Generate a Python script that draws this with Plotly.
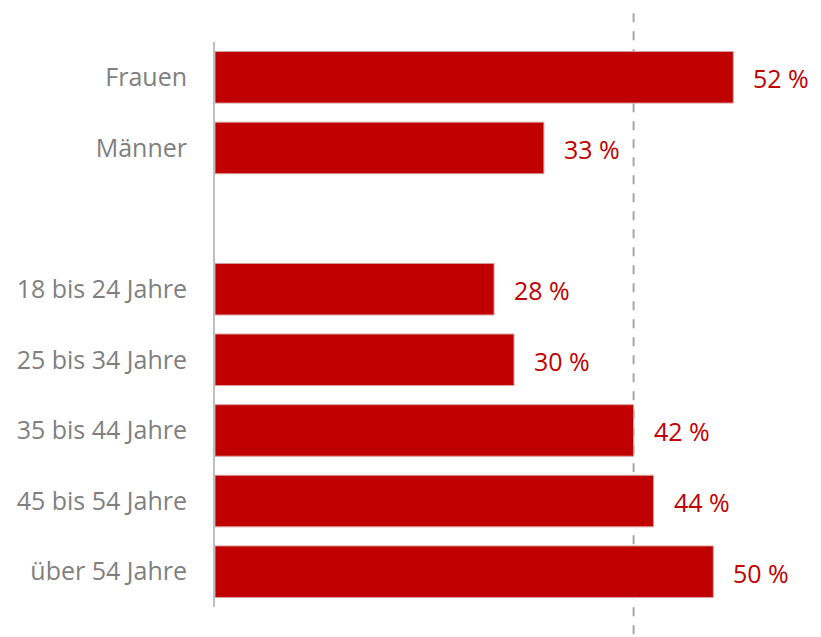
import plotly.graph_objects as go

categories = ["Frauen", "Männer", " ", "18 bis 24 Jahre", "25 bis 34 Jahre",
              "35 bis 44 Jahre", "45 bis 54 Jahre", "über 54 Jahre"]
values = [52, 33, None, 28, 30, 42, 44, 50]
average = 42

RED = "#c00000"
GRAY = "#7f7f7f"
FONT = "'Open Sans', Lato, sans-serif"

fig = go.Figure()
fig.add_trace(go.Bar(
    y=categories, x=values, orientation="h",
    marker=dict(color=RED, line=dict(color="#d9a0a0", width=1)),
    width=0.73, hoverinfo="skip",
))

for c, v in zip(categories, values):
    if v is None:
        continue
    fig.add_annotation(x=v, y=c, text=f"{v} %", showarrow=False,
                       xanchor="left", xshift=18, yshift=-1,
                       font=dict(family=FONT, size=25, color=RED))

fig.add_shape(type="line", x0=average, x1=average, xref="x",
              y0=-0.08, y1=1.08, yref="paper", layer="below",
              line=dict(color="#a6a6a6", width=2, dash="dash"))

fig.update_layout(
    width=813, height=629,
    margin=dict(l=207, r=8, t=34, b=30),
    paper_bgcolor="white", plot_bgcolor="white",
    showlegend=False,
    xaxis=dict(range=[0, 60], visible=False, fixedrange=True),
    yaxis=dict(categoryorder="array", categoryarray=categories,
               autorange="reversed", showline=True, linecolor="#bfbfbf",
               linewidth=2, showgrid=False, ticks="", ticklabelstandoff=21,
               automargin=False,
               tickfont=dict(family=FONT, size=25, color=GRAY)),
)

fig.write_html("out.html")
